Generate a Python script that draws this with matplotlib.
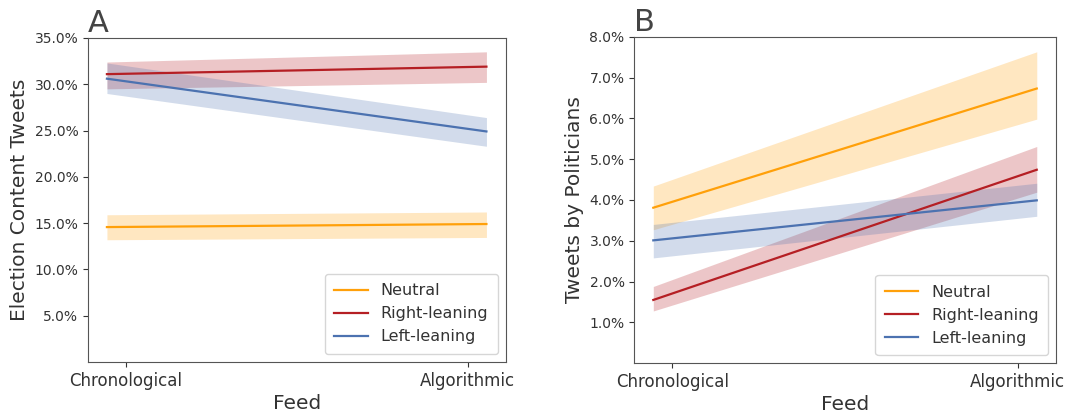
import numpy as np
import matplotlib
matplotlib.use("Agg")
import matplotlib.pyplot as plt
from matplotlib.ticker import PercentFormatter

# Категории по оси X и концы линий (чуть за пределами делений, как в оригинале)
feeds = ['Chronological', 'Algorithmic']
line_x = [-0.055, 1.055]

groups = ['Neutral', 'Right-leaning', 'Left-leaning']
colors = ['#ffa00a', '#b51f24', '#4c72b0']

# Панель A: доля твитов о выборах (значение, нижняя и верхняя граница)
a_mean = {'Neutral': [0.1457, 0.149], 'Right-leaning': [0.3109, 0.319], 'Left-leaning': [0.306, 0.249]}
a_low = {'Neutral': [0.132, 0.1345], 'Right-leaning': [0.295, 0.302], 'Left-leaning': [0.290, 0.233]}
a_high = {'Neutral': [0.159, 0.162], 'Right-leaning': [0.324, 0.335], 'Left-leaning': [0.323, 0.264]}

# Панель B: доля твитов политиков
b_mean = {'Neutral': [0.0381, 0.0673], 'Right-leaning': [0.0155, 0.0474], 'Left-leaning': [0.0301, 0.0399]}
b_low = {'Neutral': [0.0327, 0.0598], 'Right-leaning': [0.0128, 0.0419], 'Left-leaning': [0.0258, 0.0360]}
b_high = {'Neutral': [0.0434, 0.0763], 'Right-leaning': [0.0188, 0.0531], 'Left-leaning': [0.0340, 0.0441]}

a_ticks = [0.05, 0.10, 0.15, 0.20, 0.25, 0.30, 0.35]
b_ticks = [0.01, 0.02, 0.03, 0.04, 0.05, 0.06, 0.07, 0.08]

text_color = '#333333'
plt.rcParams['text.color'] = text_color
plt.rcParams['axes.labelcolor'] = text_color
plt.rcParams['xtick.color'] = text_color
plt.rcParams['ytick.color'] = text_color

fig = plt.figure(figsize=(10.88, 4.17), dpi=100)
ax1 = fig.add_axes([0.081, 0.132, 0.384, 0.777])
ax2 = fig.add_axes([0.583, 0.129, 0.388, 0.783])


def draw_panel(ax, mean, low, high, ticks, ylim, ylabel, letter):
    for g, c in zip(groups, colors):
        ax.fill_between(line_x, low[g], high[g], color=c, alpha=0.25, linewidth=0)
        ax.plot(line_x, mean[g], color=c, linewidth=1.6, label=g)
    ax.set_xlim(-0.11, 1.112)
    ax.set_ylim(*ylim)
    ax.set_xticks([0, 1])
    ax.set_xticklabels(feeds, fontsize=12)
    ax.set_yticks(ticks)
    ax.yaxis.set_major_formatter(PercentFormatter(1.0, decimals=1))
    ax.tick_params(axis='y', labelsize=10)
    ax.set_xlabel('Feed', fontsize=14.5, labelpad=3)
    ax.set_ylabel(ylabel, fontsize=14.5)
    for s in ax.spines.values():
        s.set_color('#555555')
    ax.legend(loc='lower right', fontsize=11.5, handlelength=2.1, handletextpad=0.8,
              borderpad=0.6, labelspacing=0.5)
    ax.text(0.0, 1.0, letter, transform=ax.transAxes, fontsize=22, color='#444444',
            ha='left', va='bottom')


draw_panel(ax1, a_mean, a_low, a_high, a_ticks, (0.0, 0.35), 'Election Content Tweets', 'A')
draw_panel(ax2, b_mean, b_low, b_high, b_ticks, (0.0, 0.08), 'Tweets by Politicians', 'B')

fig.savefig('out.png', dpi=100)
